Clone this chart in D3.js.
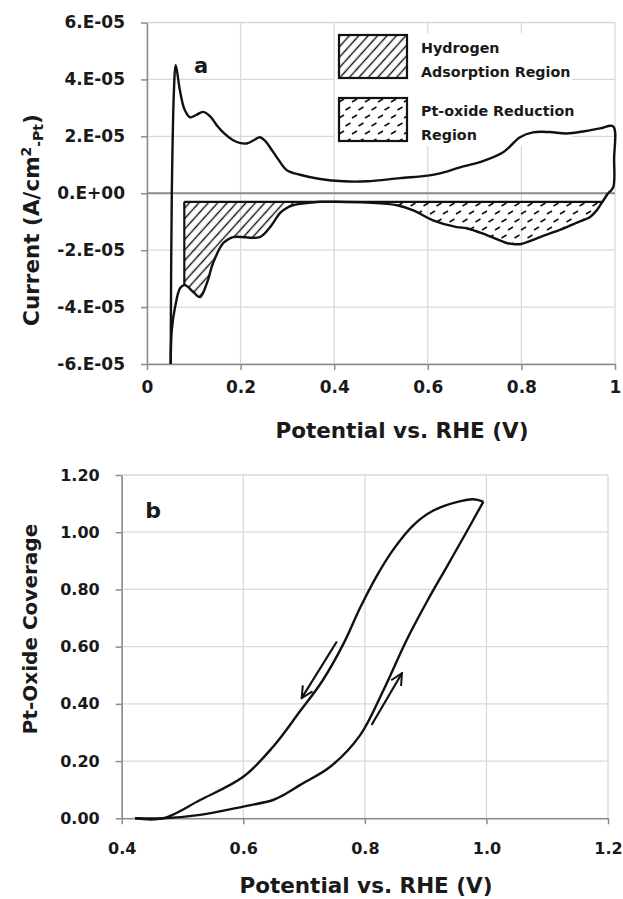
<!DOCTYPE html>
<html>
<head>
<meta charset="utf-8">
<script src="https://cdn.jsdelivr.net/npm/d3@7"></script>
<style>
  body { margin: 0; background: #fff; }
  svg text { font-family: "DejaVu Sans", sans-serif; font-weight: bold; fill: #1a1a1a; }
</style>
</head>
<body>
<div id="chart-container"></div>
<script>
// --- DATA ---
// panel a: cyclic voltammogram, [potential V, current A/cm2]
const anodicScan = [
  [0.0506, -6.0e-5], [0.053, 0], [0.058, 3.8e-5], [0.061, 4.5e-5], [0.064, 4.3e-5],
  [0.0705, 3.6e-5], [0.08, 2.95e-5], [0.092, 2.67e-5], [0.105, 2.75e-5], [0.12, 2.86e-5],
  [0.135, 2.7e-5], [0.149, 2.39e-5], [0.165, 2.1e-5], [0.184, 1.86e-5], [0.2, 1.76e-5],
  [0.213, 1.75e-5], [0.23, 1.88e-5], [0.241, 1.97e-5], [0.252, 1.85e-5], [0.263, 1.61e-5],
  [0.28, 1.2e-5], [0.299, 0.81e-5], [0.327, 0.65e-5], [0.37, 0.5e-5], [0.42, 0.42e-5],
  [0.47, 0.42e-5], [0.54, 0.53e-5], [0.6, 0.62e-5], [0.626, 0.7e-5], [0.669, 0.91e-5],
  [0.711, 1.09e-5], [0.761, 1.44e-5], [0.797, 1.97e-5], [0.825, 2.14e-5], [0.86, 2.15e-5],
  [0.897, 2.1e-5], [0.935, 2.18e-5], [0.968, 2.28e-5], [0.996, 2.35e-5], [0.998, 1.2e-5],
  [0.996, 0.2e-5], [0.985, 0]
];
const cathodicScan = [
  [0.985, 0], [0.972, -0.33e-5], [0.96, -0.62e-5], [0.946, -0.84e-5], [0.92, -1.02e-5],
  [0.897, -1.19e-5], [0.87, -1.36e-5], [0.84, -1.54e-5], [0.815, -1.7e-5], [0.797, -1.79e-5],
  [0.78, -1.78e-5], [0.769, -1.75e-5], [0.726, -1.47e-5], [0.683, -1.23e-5], [0.662, -1.19e-5],
  [0.611, -0.95e-5], [0.569, -0.6e-5], [0.534, -0.42e-5], [0.47, -0.33e-5], [0.4, -0.3e-5],
  [0.37, -0.3e-5], [0.313, -0.42e-5], [0.295, -0.55e-5], [0.284, -0.7e-5], [0.263, -1.19e-5],
  [0.241, -1.54e-5], [0.184, -1.54e-5], [0.163, -1.75e-5], [0.141, -2.46e-5], [0.128, -3.16e-5],
  [0.113, -3.65e-5], [0.099, -3.47e-5], [0.081, -3.23e-5], [0.071, -3.33e-5], [0.06, -4.0e-5],
  [0.053, -4.8e-5], [0.0506, -6.0e-5]
];
const hatchBaseline = -0.3e-5;
const hydrogenRange = [0.0797, 0.33];
const oxideRange = [0.47, 0.972];
const legendLabels = [["Hydrogen", "Adsorption Region"], ["Pt-oxide Reduction", "Region"]];
const aXTicks = [0, 0.2, 0.4, 0.6, 0.8, 1];
const aXTickLabels = ["0", "0.2", "0.4", "0.6", "0.8", "1"];
const aYTicks = [6e-5, 4e-5, 2e-5, 0, -2e-5, -4e-5, -6e-5];
const aYTickLabels = ["6.E-05", "4.E-05", "2.E-05", "0.E+00", "-2.E-05", "-4.E-05", "-6.E-05"];

// panel b: oxide coverage, [potential V, coverage]
const forwardScan = [
  [0.422, 0], [0.468, 0], [0.529, 0.012], [0.6, 0.041], [0.649, 0.064], [0.665, 0.08],
  [0.693, 0.116], [0.743, 0.18], [0.792, 0.29], [0.83, 0.445], [0.868, 0.62],
  [0.902, 0.757], [0.935, 0.88], [0.967, 1.0], [0.995, 1.107]
];
const reverseScan = [
  [0.995, 1.107], [0.978, 1.115], [0.951, 1.105], [0.912, 1.075], [0.88, 1.025], [0.847, 0.94],
  [0.819, 0.845], [0.792, 0.735], [0.766, 0.615], [0.73, 0.48], [0.693, 0.373],
  [0.649, 0.25], [0.6, 0.145], [0.529, 0.064], [0.468, 0], [0.422, 0]
];
const arrowReverse = [[0.754, 0.618], [0.696, 0.42]];
const arrowForward = [[0.811, 0.326], [0.861, 0.507]];
const bXTicks = [0.4, 0.6, 0.8, 1.0, 1.2];
const bXTickLabels = ["0.4", "0.6", "0.8", "1.0", "1.2"];
const bYTicks = [0, 0.2, 0.4, 0.6, 0.8, 1.0, 1.2];
const bYTickLabels = ["0.00", "0.20", "0.40", "0.60", "0.80", "1.00", "1.20"];

// --- SETUP ---
const totalWidth = 623, totalHeight = 899;
const gridColor = "#d9d9d9", axisColor = "#8c8c8c";

const svg = d3.select("#chart-container").append("svg")
  .attr("width", totalWidth).attr("height", totalHeight);

const defs = svg.append("defs");
defs.append("pattern").attr("id", "hatchH")
  .attr("patternUnits", "userSpaceOnUse").attr("width", 7).attr("height", 7)
  .attr("patternTransform", "rotate(42)")
  .append("line").attr("x1", 3.5).attr("y1", 0).attr("x2", 3.5).attr("y2", 7)
  .attr("stroke", "#111").attr("stroke-width", 1.4);
defs.append("pattern").attr("id", "hatchO")
  .attr("patternUnits", "userSpaceOnUse").attr("width", 13).attr("height", 16)
  .append("path").attr("d", "M1,6 L6,3 M7.5,14 L12.5,11")
  .attr("stroke", "#111").attr("stroke-width", 1.6).attr("fill", "none");
defs.append("marker").attr("id", "arrowHead")
  .attr("viewBox", "0 0 10 10").attr("refX", 9).attr("refY", 5)
  .attr("markerWidth", 6.5).attr("markerHeight", 6.5).attr("orient", "auto")
  .attr("markerUnits", "strokeWidth")
  .append("path").attr("d", "M1,1 L9,5 L1,9").attr("fill", "none")
  .attr("stroke", "#111").attr("stroke-width", 1.4);

function drawFrame(x, y, xTicks, xLabels, yTicks, yLabels, fontSize) {
  const g = svg.append("g");
  const [x0, x1] = x.range();
  const [y0, y1] = y.range();
  g.selectAll(".vgrid").data(xTicks).join("line")
    .attr("x1", d => x(d)).attr("x2", d => x(d)).attr("y1", y0).attr("y2", y1)
    .attr("stroke", gridColor).attr("stroke-width", 1.3);
  g.selectAll(".hgrid").data(yTicks).join("line")
    .attr("x1", x0).attr("x2", x1).attr("y1", d => y(d)).attr("y2", d => y(d))
    .attr("stroke", gridColor).attr("stroke-width", 1.3);

  const xAxis = g.append("g").attr("transform", `translate(0,${y0})`)
    .call(d3.axisBottom(x).tickValues(xTicks).tickSize(6).tickSizeOuter(0)
      .tickFormat((d, i) => xLabels[i]));
  const yAxis = g.append("g").attr("transform", `translate(${x0},0)`)
    .call(d3.axisLeft(y).tickValues(yTicks).tickSize(6).tickSizeOuter(0)
      .tickFormat((d, i) => yLabels[i]));
  [xAxis, yAxis].forEach(ax => {
    ax.select(".domain").attr("stroke", axisColor).attr("stroke-width", 1.5);
    ax.selectAll(".tick line").attr("stroke", axisColor).attr("stroke-width", 1.5);
    ax.selectAll(".tick text").style("font-size", fontSize + "px").attr("fill", "#1a1a1a");
  });
  return { xAxis, yAxis };
}

// --- PANEL A ---
const xA = d3.scaleLinear().domain([0, 1]).range([147, 615]);
const yA = d3.scaleLinear().domain([-6e-5, 6e-5]).range([364, 22.5]);
const axA = drawFrame(xA, yA, aXTicks, aXTickLabels, aYTicks, aYTickLabels, 17);
axA.xAxis.selectAll(".tick text").attr("y", 17);
axA.yAxis.selectAll(".tick text").attr("x", -22);

// zero line
svg.append("line").attr("x1", xA(0)).attr("x2", xA(1)).attr("y1", yA(0)).attr("y2", yA(0))
  .attr("stroke", axisColor).attr("stroke-width", 1.8);

// legend
const legend = svg.append("g");
legend.append("rect").attr("x", 335).attr("y", 33).attr("width", 237).attr("height", 113)
  .attr("fill", "#fff");
const legendFills = ["url(#hatchH)", "url(#hatchO)"];
legendLabels.forEach((lines, i) => {
  const top = 35 + i * 63;
  legend.append("rect").attr("x", 339).attr("y", top).attr("width", 68).attr("height", 43)
    .attr("fill", legendFills[i]).attr("stroke", "#111").attr("stroke-width", 2.2);
  legend.selectAll(null).data(lines).join("text")
    .attr("x", 421).attr("y", (d, j) => top + 18 + j * 24)
    .style("font-size", "14.3px").text(d => d);
});

// hatched regions
function inRange(pts, r) {
  return pts.filter(d => d[0] >= r[0] && d[0] <= r[1]).sort((a, b) => a[0] - b[0]);
}
function curveAt(pts, p) {
  const s = pts.slice().sort((a, b) => a[0] - b[0]);
  for (let i = 1; i < s.length; i++) {
    if (s[i][0] >= p) {
      const t = (p - s[i - 1][0]) / (s[i][0] - s[i - 1][0]);
      return s[i - 1][1] + t * (s[i][1] - s[i - 1][1]);
    }
  }
  return s[s.length - 1][1];
}
const cathodicBranch = cathodicScan.slice(1); // single-valued part
const areaA = d3.area().x(d => xA(d[0])).y0(yA(hatchBaseline)).y1(d => yA(Math.min(d[1], hatchBaseline)))
  .curve(d3.curveMonotoneX);
[[hydrogenRange, "url(#hatchH)"], [oxideRange, "url(#hatchO)"]].forEach(([r, fill]) => {
  const pts = [[r[0], curveAt(cathodicBranch, r[0])], ...inRange(cathodicBranch, r), [r[1], curveAt(cathodicBranch, r[1])]];
  svg.append("path").datum(pts).attr("d", areaA).attr("fill", fill);
});
// baseline of the hatched regions and left edge
svg.append("line").attr("x1", xA(hydrogenRange[0])).attr("x2", xA(oxideRange[1]))
  .attr("y1", yA(hatchBaseline)).attr("y2", yA(hatchBaseline))
  .attr("stroke", "#111").attr("stroke-width", 2.2);
svg.append("line").attr("x1", xA(hydrogenRange[0])).attr("x2", xA(hydrogenRange[0]))
  .attr("y1", yA(hatchBaseline)).attr("y2", yA(curveAt(cathodicBranch, hydrogenRange[0])))
  .attr("stroke", "#111").attr("stroke-width", 2.2);

const lineA = d3.line().x(d => xA(d[0])).y(d => yA(d[1])).curve(d3.curveCatmullRom.alpha(0.5));
[anodicScan, cathodicScan].forEach(s => {
  svg.append("path").datum(s).attr("d", lineA).attr("fill", "none")
    .attr("stroke", "#111").attr("stroke-width", 2.4).attr("stroke-linejoin", "round");
});

svg.append("text").attr("x", 201).attr("y", 73).attr("text-anchor", "middle")
  .style("font-size", "21px").text("a");
svg.append("text").attr("x", 402).attr("y", 438).attr("text-anchor", "middle")
  .style("font-size", "21.5px").text("Potential vs. RHE (V)");
const yTitleA = svg.append("text").attr("transform", "translate(39,220) rotate(-90)")
  .attr("text-anchor", "middle").style("font-size", "21.5px");
yTitleA.append("tspan").text("Current (A/cm");
yTitleA.append("tspan").attr("dy", -8).style("font-size", "14px").text("2");
yTitleA.append("tspan").attr("dy", 12).style("font-size", "14px").text("-Pt");
yTitleA.append("tspan").attr("dy", -4).text(")");

// --- PANEL B ---
const xB = d3.scaleLinear().domain([0.4, 1.2]).range([121.7, 608]);
const yB = d3.scaleLinear().domain([0, 1.2]).range([818.3, 475]);
const axB = drawFrame(xB, yB, bXTicks, bXTickLabels, bYTicks, bYTickLabels, 16);
axB.xAxis.selectAll(".tick text").attr("y", 24);
axB.yAxis.selectAll(".tick text").attr("x", -22);

const lineB = d3.line().x(d => xB(d[0])).y(d => yB(d[1])).curve(d3.curveCatmullRom.alpha(0.5));
[forwardScan, reverseScan].forEach(s => {
  svg.append("path").datum(s).attr("d", lineB).attr("fill", "none")
    .attr("stroke", "#111").attr("stroke-width", 2.4).attr("stroke-linejoin", "round");
});
[arrowReverse, arrowForward].forEach(a => {
  svg.append("path").datum(a).attr("d", d3.line().x(d => xB(d[0])).y(d => yB(d[1])))
    .attr("stroke", "#111").attr("stroke-width", 2.2).attr("fill", "none")
    .attr("marker-end", "url(#arrowHead)");
});

svg.append("text").attr("x", 153).attr("y", 518).attr("text-anchor", "middle")
  .style("font-size", "22px").text("b");
svg.append("text").attr("x", 366).attr("y", 893).attr("text-anchor", "middle")
  .style("font-size", "21.5px").text("Potential vs. RHE (V)");
svg.append("text").attr("transform", "translate(37,629) rotate(-90)")
  .attr("text-anchor", "middle").style("font-size", "20px").text("Pt-Oxide Coverage");
</script>
</body>
</html>
